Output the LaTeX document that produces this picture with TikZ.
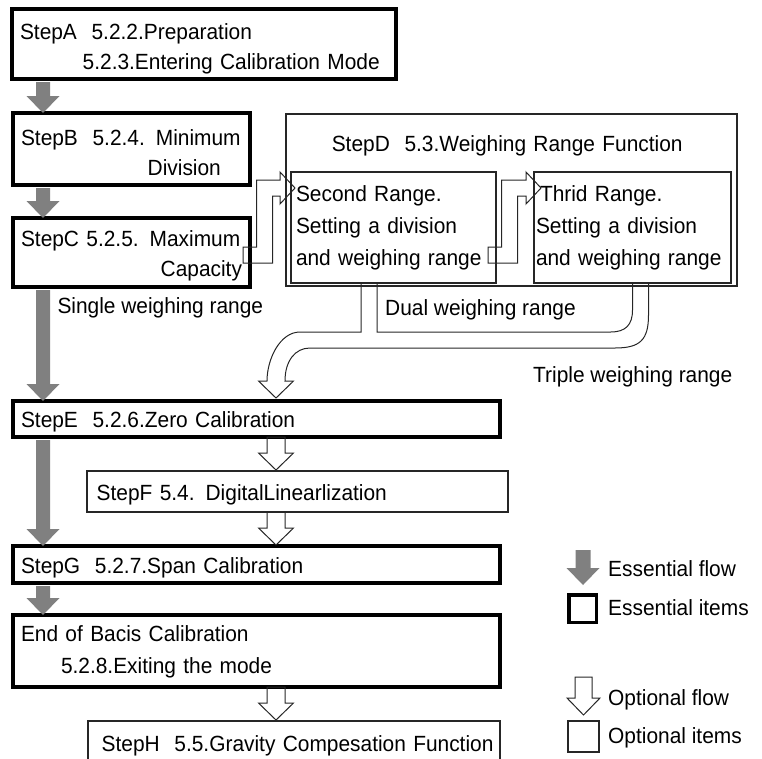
\documentclass[tikz,border=0pt]{standalone}
\usepackage{fontspec}
\setmainfont{Liberation Sans}[FakeStretch=0.95]
\usetikzlibrary{calc}
\hyphenpenalty=10000
\exhyphenpenalty=10000

% block arrow pointing down: style, shaft half width, head half width, start, tip
\newcommand{\blockdown}[5]{%
  \draw[#1] ($(#4)+(-#2,0)$) -- ($(#4)+(#2,0)$) -- ($(#5)+(#2,-17)$)
    -- ($(#5)+(#3,-17)$) -- (#5) -- ($(#5)+(-#3,-17)$) -- ($(#5)+(-#2,-17)$) -- cycle;}

% hollow elbow arrow: tail centre, tip
\newcommand{\elbowflow}[2]{%
  \draw[optflow] ($(#1)+(0,-8)$) -- ($(#1)+(13.5,-8)$) -- ($(#2 -| #1)+(13.5,-8)$)
    -- ($(#2)+(-15,-8)$) -- ($(#2)+(-15,-16)$) -- (#2) -- ($(#2)+(-15,16)$)
    -- ($(#2)+(-15,8)$) -- ($(#2 -| #1)+(29.5,8)$) -- ($(#1)+(29.5,8)$)
    -- ($(#1)+(0,8)$) -- cycle;}

\tikzset{
  essbox/.style={draw, line width=3.5pt, anchor=north west, align=left,
    inner xsep=8pt, inner ysep=0pt, outer sep=0pt},
  optbox/.style={draw=black!85, line width=1.2pt, anchor=north west, align=left,
    inner xsep=6pt, inner ysep=0pt, outer sep=0pt},
  txt/.style={anchor=base west, inner sep=0pt},
  essflow/.style={fill=gray, draw=none},
  optflow/.style={draw=black!85, line width=1pt},
}

\begin{document}
\begin{tikzpicture}[x=1pt, y=-1pt, font=\fontsize{22}{30}\selectfont]
  \useasboundingbox (0,0) rectangle (762,758);
  \clip (0,0) rectangle (762,758);

  % Define steps
  \node[essbox, text width=368pt, text height=30.3pt, text depth=39.7pt] (stepA) at (12,9)
    {StepA\ \ 5.2.2.Preparation\\\hspace*{62.7pt}5.2.3.Entering Calibration Mode};
  \node[essbox, text width=221pt, text height=32pt, text depth=40pt] (stepB) at (13,113)
    {StepB\ \ 5.2.4. Minimum\\\hspace*{126.7pt}Division};
  \node[essbox, text width=221pt, text height=28pt, text depth=41pt] (stepC) at (13,218)
    {StepC 5.2.5. Maximum\\\hspace*{\fill}Capacity};
  \node[optbox, inner xsep=45.8pt, text width=359.4pt, text height=37pt, text depth=135pt] (stepD) at (286,114)
    {StepD\ \ 5.3.Weighing Range Function};
  \node[optbox, font=\fontsize{22}{32}\selectfont, inner xsep=5pt, text width=195pt,
    text height=29.6pt, text depth=81.4pt] (second) at (291,172)
    {Second Range.\\Setting a division\\and weighing range};
  \node[optbox, font=\fontsize{22}{32}\selectfont, inner xsep=2pt, text width=193pt,
    text height=29.6pt, text depth=81.4pt] (third) at (534,172)
    {\hspace*{4pt}Thrid Range.\\Setting a division\\and weighing range};
  \node[essbox, text width=471pt, text height=26pt, text depth=10pt] (stepE) at (13,401)
    {StepE\ \ 5.2.6.Zero Calibration};
  \node[optbox, inner xsep=3pt, text width=415pt, text height=29pt, text depth=12pt] (stepF) at (87,471)
    {\hspace*{6.7pt}StepF 5.4. DigitalLinearlization};
  \node[essbox, text width=471pt, text height=27.3pt, text depth=9.7pt] (stepG) at (13,546)
    {StepG\ \ 5.2.7.Span Calibration};
  \node[essbox, font=\fontsize{22}{31.5}\selectfont, text width=471pt, text height=26.7pt,
    text depth=45.3pt] (endcal) at (13,615)
    {End of Bacis Calibration\\\hspace*{40pt}5.2.8.Exiting the mode};
  \node[optbox, inner xsep=2pt, text width=408pt, text height=30.7pt, text depth=38.3pt] (stepH) at (88,721)
    {\hspace*{11.7pt}StepH\ \ 5.5.Gravity Compesation Function};

  % Range labels
  \node[txt] (single) at (57.3,313) {Single weighing range};
  \node[txt] (dual) at (385,315) {Dual weighing range};
  \node[txt] (triple) at (533,382) {Triple weighing range};

  % Essential flow
  \coordinate (essx) at (43,0);
  \foreach \a/\b [count=\i] in {stepA/stepB, stepB/stepC, stepC/stepE, stepE/stepG, stepG/endcal}{
    \coordinate (es\i) at ($(\a.south -| essx)+(0,3)$);
    \coordinate (et\i) at (\b.north -| essx);
    \blockdown{essflow}{7}{16.5}{es\i}{et\i}
  }

  % Optional flow
  \coordinate (optx) at (276,0);
  \foreach \a/\b [count=\i] in {stepE/stepF, stepF/stepG, endcal/stepH}{
    \coordinate (os\i) at (\a.south -| optx);
    \coordinate (ot\i) at ($(\b.north -| optx)+(0,-1)$);
    \blockdown{optflow}{9}{17.5}{os\i}{ot\i}
  }

  % Into the ranges
  \coordinate (cs) at ($(stepC.south east)+(-7,-32)$);
  \coordinate (ct) at ($(second.north west)+(4,16)$);
  \elbowflow{cs}{ct}
  \coordinate (ss) at ($(second.south east)+(-8,-28)$);
  \coordinate (st) at ($(third.north west)+(7,16)$);
  \elbowflow{ss}{st}

  % Back to zero calibration
  \coordinate (dualL) at ($(second.south)+(-32.5,0)$);
  \coordinate (dualR) at ($(second.south)+(-16.5,0)$);
  \coordinate (tripL) at (third.south);
  \coordinate (tripR) at ($(third.south)+(16,0)$);
  \coordinate (mtip) at ($(stepE.north -| optx)+(0,-3)$);
  \draw[optflow] (dualL) -- ++(0,49) -- ($(mtip)+(24,-66)$)
    .. controls +(-20,0) and +(0,-22) .. ($(mtip)+(-9,-17)$)
    -- ($(mtip)+(-17.5,-17)$) -- (mtip) -- ($(mtip)+(17.5,-17)$) -- ($(mtip)+(9,-17)$)
    .. controls +(0,-20) and +(-15,0) .. ($(mtip)+(34,-50)$)
    -- ($(tripR |- mtip)+(-33.5,-50)$)
    .. controls +(25,0) and +(0,25) .. ($(tripR)+(0,32)$) -- (tripR);
  \draw[optflow] (tripL) -- ++(0,27) .. controls +(0,15) and +(15,0) .. ++(-22,22)
    -- ($(dualR)+(0,49)$) -- (dualR);

  % Legend
  \coordinate (lgEs) at (583,550);
  \coordinate (lgEt) at (583,585);
  \blockdown{essflow}{7.5}{16.5}{lgEs}{lgEt}
  \node[essbox, minimum width=27.5pt, minimum height=27.5pt] (lgEbox) at (568.75,594.75) {};
  \coordinate (lgOs) at (583.5,677);
  \coordinate (lgOt) at (583.5,715);
  \blockdown{optflow}{8.5}{16.5}{lgOs}{lgOt}
  \node[optbox, minimum width=31pt, minimum height=31pt] (lgObox) at (568,721) {};
  \node[txt] (lgEflow) at (608,576) {Essential flow};
  \node[txt] (lgEitems) at (608,615) {Essential items};
  \node[txt] (lgOflow) at (608,705.7) {Optional flow};
  \node[txt] (lgOitems) at (608,743.3) {Optional items};
\end{tikzpicture}
\end{document}
